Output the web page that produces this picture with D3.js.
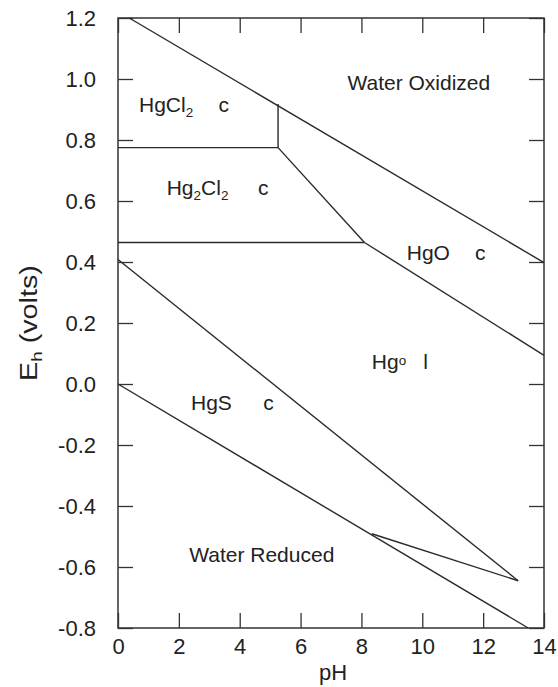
<!DOCTYPE html>
<html>
<head>
<meta charset="utf-8">
<script src="https://cdn.jsdelivr.net/npm/d3@7"></script>
<style>
  body { margin: 0; background: #fff; }
  text { font-family: "Liberation Sans", Arial, sans-serif; fill: #222; }
</style>
</head>
<body>
<div id="chart"></div>
<script>
// tick values
const phTicks = [0, 2, 4, 6, 8, 10, 12, 14];
const ehTicks = [-0.8, -0.6, -0.4, -0.2, 0.0, 0.2, 0.4, 0.6, 0.8, 1.0, 1.2];

// stability boundaries, [pH, Eh]
const waterOxidized = [[0.37, 1.2], [14, 0.398]];
const waterReduced = [[0, 0], [13.48, -0.8]];
const hgcl2Hgo = [[5.26, 0.918], [5.26, 0.775]];
const hgcl2Hg2cl2 = [[0, 0.775], [5.26, 0.775]];
const hg2cl2Hgo = [[5.26, 0.775], [8.1, 0.464]];
const hg2cl2Hg = [[0, 0.464], [8.1, 0.464]];
const hgoHg = [[8.1, 0.464], [14, 0.094]];
const hgsHgUpper = [[0, 0.408], [13.15, -0.645]];
const hgsHgLower = [[8.34, -0.491], [13.15, -0.645]];

// field labels: [pH, Eh] of text start, parts [text, kind]
const fieldLabels = [
  { at: [7.54, 0.964], parts: [['Water Oxidized', 'n']] },
  { at: [0.69, 0.892], parts: [['HgCl', 'n'], ['2', 'sub']], phase: ['c', 3.3] },
  { at: [1.6, 0.62], parts: [['Hg', 'n'], ['2', 'sub'], ['Cl', 'n'], ['2', 'sub']], phase: ['c', 4.6] },
  { at: [9.49, 0.407], parts: [['HgO', 'n']], phase: ['c', 11.73] },
  { at: [8.34, 0.048], parts: [['Hg', 'n'], ['o', 'sup']], phase: ['l', 10.03] },
  { at: [2.4, -0.085], parts: [['HgS', 'n']], phase: ['c', 4.77] },
  { at: [2.34, -0.583], parts: [['Water Reduced', 'n']] }
];

const W = 558, H = 687;
const margin = { top: 18, right: 14, bottom: 59, left: 118 };

const svg = d3.select('#chart').append('svg')
  .attr('width', W)
  .attr('height', H);

const x = d3.scaleLinear().domain([0, 14]).range([margin.left, W - margin.right]);
const y = d3.scaleLinear().domain([-0.8, 1.2]).range([H - margin.bottom, margin.top]);

const fmt = d => d.toFixed(1);
const inner = 15;

// axes with inward ticks
svg.append('g')
  .attr('transform', `translate(0,${y(-0.8)})`)
  .call(d3.axisBottom(x).tickValues(phTicks).tickSize(-inner).tickPadding(10).tickFormat(d3.format('d')));
svg.append('g')
  .attr('transform', `translate(0,${y(1.2)})`)
  .call(d3.axisTop(x).tickValues(phTicks).tickSize(-inner).tickFormat(''));
svg.append('g')
  .attr('transform', `translate(${x(0)},0)`)
  .call(d3.axisLeft(y).tickValues(ehTicks).tickSize(-inner).tickPadding(22).tickFormat(fmt));
svg.append('g')
  .attr('transform', `translate(${x(14)},0)`)
  .call(d3.axisRight(y).tickValues(ehTicks).tickSize(-inner).tickFormat(''));

svg.selectAll('.domain').remove();
svg.selectAll('.tick line').attr('stroke', '#333').attr('stroke-width', 1.3);
svg.selectAll('.tick text')
  .style('font-family', '"Liberation Sans", Arial, sans-serif')
  .style('font-size', '22px')
  .attr('fill', '#222');

// frame
svg.append('rect')
  .attr('x', x(0)).attr('y', y(1.2))
  .attr('width', x(14) - x(0)).attr('height', y(-0.8) - y(1.2))
  .attr('fill', 'none').attr('stroke', '#333').attr('stroke-width', 1.5);

// boundaries
const line = d3.line().x(d => x(d[0])).y(d => y(d[1]));
const boundaries = [waterOxidized, waterReduced, hgcl2Hgo, hgcl2Hg2cl2, hg2cl2Hgo,
  hg2cl2Hg, hgoHg, hgsHgUpper, hgsHgLower];
svg.append('g')
  .selectAll('path')
  .data(boundaries)
  .join('path')
  .attr('d', line)
  .attr('fill', 'none')
  .attr('stroke', '#2a2a2a')
  .attr('stroke-width', 1.4);

// field labels
fieldLabels.forEach(l => {
  const t = svg.append('text')
    .attr('x', x(l.at[0]))
    .attr('y', y(l.at[1]))
    .style('font-size', '21px');
  let shift = 0;
  l.parts.forEach(([s, kind]) => {
    const target = kind === 'sub' ? 5 : kind === 'sup' ? -4 : 0;
    t.append('tspan')
      .attr('dy', target - shift)
      .style('font-size', kind === 'n' ? '21px' : '13.5px')
      .text(s);
    shift = target;
  });
  if (l.phase) {
    svg.append('text')
      .attr('x', x(l.phase[1]))
      .attr('y', y(l.at[1]))
      .style('font-size', '21px')
      .text(l.phase[0]);
  }
});

// axis titles
svg.append('text')
  .attr('x', (x(0) + x(14)) / 2 + 2)
  .attr('y', 680)
  .attr('text-anchor', 'middle')
  .style('font-size', '22px')
  .text('pH');

const yt = svg.append('text')
  .attr('transform', `translate(37,${(y(-0.8) + y(1.2)) / 2}) rotate(-90) scale(1.25,1)`)
  .attr('text-anchor', 'middle')
  .style('font-size', '23px');
yt.append('tspan').text('E');
yt.append('tspan').attr('dy', 5).style('font-size', '15px').text('h');
yt.append('tspan').attr('dy', -5).text(' (volts)');
</script>
</body>
</html>
